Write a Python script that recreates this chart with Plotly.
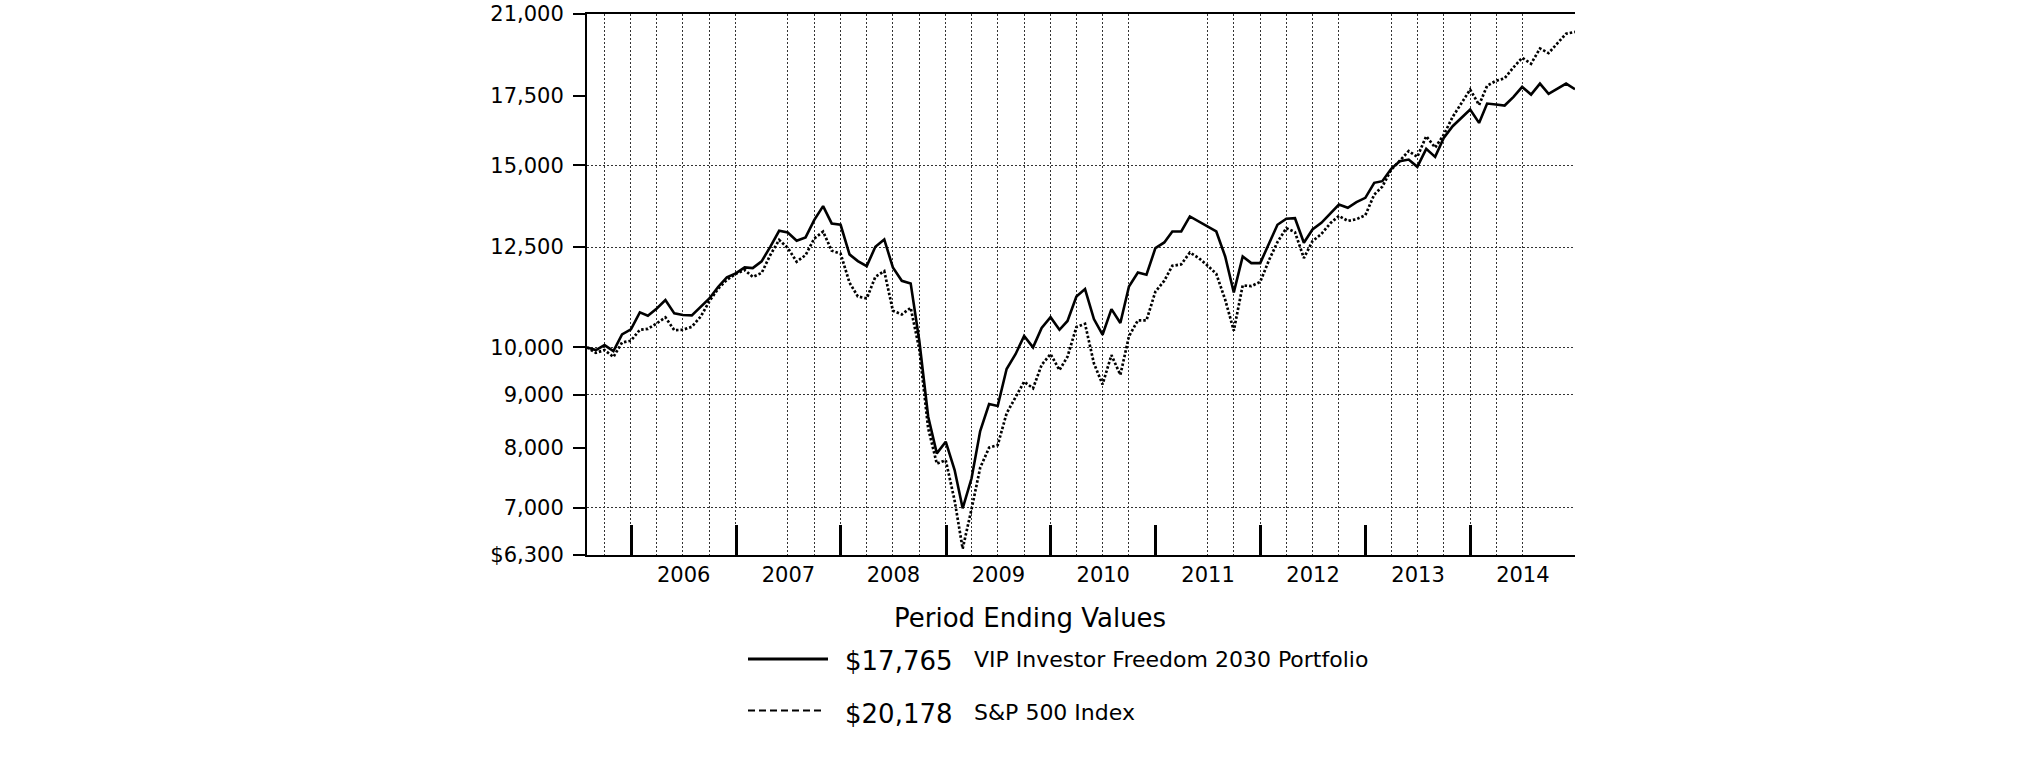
import math
import pandas as pd
import plotly.graph_objects as go

# ---------------- data ----------------
start_month = "2005-07-31"
months = pd.date_range(start_month, periods=114, freq="ME")

fund_name = "VIP Investor Freedom 2030 Portfolio"
index_name = "S&P 500 Index"

fund_values = [
    10000, 9941, 10052, 9919, 10293, 10409,                      # 2005 Jul-Dec
    10810, 10730, 10906, 11110, 10786, 10746, 10738, 10947, 11151, 11445, 11685, 11789,   # 2006
    11947, 11929, 12111, 12509, 12963, 12915, 12677, 12772, 13274, 13694, 13176, 13137,   # 2007
    12300, 12117, 11983, 12509, 12715, 11947, 11598, 11530, 10150, 8571, 7899, 8107,      # 2008
    7612, 6990, 7473, 8300, 8816, 8777, 9530, 9850, 10258, 10000, 10440, 10695,           # 2009
    10400, 10605, 11200, 11385, 10651, 10286, 10890, 10556, 11453, 11815, 11754, 12472,   # 2010
    12630, 12943, 12943, 13383, 13234, 13088, 12943, 12243, 11301, 12243, 12063, 12063,   # 2011
    12612, 13137, 13314, 13330, 12621, 13000, 13195, 13471, 13743, 13642, 13815, 13948,   # 2012
    14423, 14476, 14878, 15134, 15190, 14945, 15555, 15280, 15940, 16360, 16665, 16977,   # 2013
    16481, 17205, 17167, 17129, 17462, 17855, 17553, 17988, 17579, 17776, 17988, 17765,   # 2014
]

index_values = [
    10000, 9880, 9940, 9790, 10110, 10150,                       # 2005 Jul-Dec
    10400, 10420, 10550, 10690, 10390, 10400, 10470, 10710, 11080, 11400, 11620, 11780,   # 2006
    11880, 11700, 11800, 12280, 12700, 12480, 12100, 12280, 12740, 12940, 12400, 12320,   # 2007
    11550, 11200, 11150, 11700, 11850, 10850, 10760, 10920, 9960, 8350, 7720, 7780,       # 2008
    7110, 6390, 6980, 7650, 8000, 8045, 8635, 8948, 9265, 9129, 9620, 9853,               # 2009
    9508, 9795, 10463, 10540, 9650, 9210, 9830, 9407, 10250, 10620, 10620, 11320,         # 2010
    11600, 11990, 12030, 12350, 12200, 12000, 11780, 11120, 10380, 11480, 11460, 11570,   # 2011
    12150, 12640, 13040, 12922, 12200, 12668, 12870, 13180, 13400, 13250, 13300, 13420,   # 2012
    14050, 14300, 14850, 15150, 15480, 15280, 16000, 15600, 16050, 16700, 17200, 17750,   # 2013
    17150, 17900, 18100, 18200, 18650, 19050, 18800, 19450, 19250, 19700, 20100, 20178,   # 2014
]

y_tick_vals = [6300, 7000, 8000, 9000, 10000, 12500, 15000, 17500, 21000]
y_tick_text = ["$6,300", "7,000", "8,000", "9,000", "10,000", "12,500", "15,000", "17,500", "21,000"]
y_grid_vals = [7000, 9000, 10000, 12500, 15000]

x_grid_dates = [
    "2005-09-30", "2005-12-31",
    "2006-03-31", "2006-06-30", "2006-09-30", "2006-12-31",
    "2007-06-30", "2007-09-30", "2007-12-31",
    "2008-03-31", "2008-06-30", "2008-09-30", "2008-12-31",
    "2009-03-31", "2009-06-30", "2009-09-30", "2009-12-31",
    "2010-03-31", "2010-06-30", "2010-09-30",
    "2011-06-30", "2011-09-30", "2011-12-31",
    "2012-03-31", "2012-06-30", "2012-09-30",
    "2013-03-31", "2013-06-30", "2013-09-30", "2013-12-31",
    "2014-03-31", "2014-06-30",
]

x_range = ["2005-07-31", "2014-12-31"]
y_range = [math.log10(6300) - 1e-7, math.log10(21000) + 1e-7]

# ---------------- layout geometry ----------------
W, H = 2025, 761
ML, MT = 587, 14
MR = W - 1575
MB = H - 555
PW, PH = W - ML - MR, H - MT - MB
FONT = "DejaVu Sans"


def px(x):
    """window x pixel -> paper coordinate"""
    return (x - ML) / PW


def py(y):
    """window y pixel -> paper coordinate"""
    return (H - MB - y) / PH


fig = go.Figure()

fig.add_trace(go.Scatter(
    x=months, y=fund_values, mode="lines", name=fund_name,
    line=dict(color="black", width=2.6), xaxis="x", yaxis="y",
))
fig.add_trace(go.Scatter(
    x=months, y=index_values, mode="lines", name=index_name,
    line=dict(color="black", width=2.7, dash="2.5px,2px"), xaxis="x", yaxis="y",
))
# invisible anchor trace for the overlay axes that carry ticks and labels
fig.add_trace(go.Scatter(
    x=[months[0]], y=[fund_values[0]], mode="markers", marker=dict(opacity=0),
    hoverinfo="skip", showlegend=False, xaxis="x2", yaxis="y2",
))

grid_style = dict(showgrid=True, gridcolor="#333333", gridwidth=1, griddash="2px,2px")

fig.update_layout(
    width=W, height=H,
    margin=dict(l=ML, r=MR, t=MT, b=MB, pad=0, autoexpand=False),
    paper_bgcolor="white", plot_bgcolor="white",
    showlegend=False,
    font=dict(family=FONT, color="black"),
    xaxis=dict(type="date", range=x_range, tickmode="array", tickvals=x_grid_dates,
               showticklabels=False, ticks="", showline=False, zeroline=False,
               automargin=False, **grid_style),
    yaxis=dict(type="log", range=y_range, tickmode="array", tickvals=y_grid_vals,
               showticklabels=False, ticks="", showline=False, zeroline=False,
               automargin=False, **grid_style),
    xaxis2=dict(type="date", overlaying="x", anchor="y2", side="bottom", range=x_range,
                tickmode="linear", tick0="2006-01-01", dtick="M12", tickformat="%Y",
                ticklabelmode="period", ticks="inside", ticklen=30, tickwidth=2.5,
                tickcolor="black", showline=True, linecolor="black", linewidth=2,
                mirror=True, showgrid=False, zeroline=False, automargin=False,
                tickfont=dict(family=FONT, size=21, color="black")),
    yaxis2=dict(type="log", overlaying="y", anchor="x2", side="left", range=y_range,
                tickmode="array", tickvals=y_tick_vals, ticktext=y_tick_text,
                ticks="outside", ticklen=12, tickwidth=2.2, tickcolor="black",
                showline=True, linecolor="black", linewidth=2, showgrid=False,
                zeroline=False, automargin=False, ticklabelstandoff=5,
                ticklabeloverflow="allow",
                tickfont=dict(family=FONT, size=21, color="black")),
)

# ---------------- legend block below the chart ----------------
shapes = [
    dict(type="line", xref="paper", yref="paper", x0=px(748), x1=px(828),
         y0=py(659), y1=py(659), line=dict(color="black", width=3)),
    dict(type="line", xref="paper", yref="paper", x0=px(748), x1=px(824),
         y0=py(710.5), y1=py(710.5), line=dict(color="black", width=2, dash="7px,4px")),
]
fig.update_layout(shapes=shapes)

annots = [
    dict(text="Period Ending Values", x=px(1030), y=py(618), xanchor="center",
         yanchor="middle", font=dict(size=26)),
    dict(text=f"${fund_values[-1]:,}", x=px(843), y=py(661), xanchor="left",
         yanchor="middle", font=dict(size=26)),
    dict(text=fund_name, x=px(972), y=py(659), xanchor="left",
         yanchor="middle", font=dict(size=22)),
    dict(text=f"${index_values[-1]:,}", x=px(843), y=py(714), xanchor="left",
         yanchor="middle", font=dict(size=26)),
    dict(text=index_name, x=px(972), y=py(712), xanchor="left",
         yanchor="middle", font=dict(size=22)),
]
for a in annots:
    fig.add_annotation(xref="paper", yref="paper", showarrow=False,
                       font_family=FONT, font_color="black", **a)

# remove the default 8px page margin so the figure fills the window exactly
fig.write_html("out.html", config={"displayModeBar": False},
               post_script="document.body.style.margin='0px';")
